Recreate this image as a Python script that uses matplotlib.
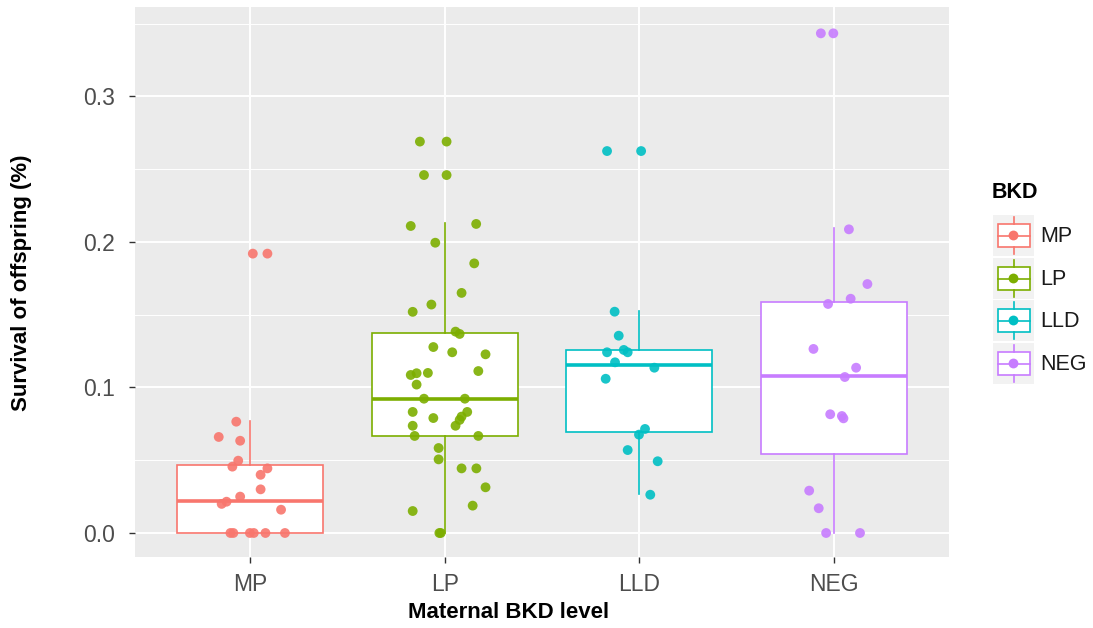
import numpy as np
import matplotlib
matplotlib.use("Agg")
import matplotlib.pyplot as plt
from matplotlib.patches import Rectangle

plt.rcParams['font.family'] = ['Liberation Sans', 'DejaVu Sans']

groups = ["MP", "LP", "LLD", "NEG"]
colors = ["#F8766D", "#7CAE00", "#00BFC4", "#C77CFF"]

# box stats: lower whisker, q1, median, q3, upper whisker
whislo = [0.0, 0.0, 0.0268, 0.0]
q1 = [0.0, 0.0667, 0.0692, 0.0543]
med = [0.022, 0.0923, 0.1155, 0.1077]
q3 = [0.0464, 0.1372, 0.1258, 0.1588]
whishi = [0.077, 0.2133, 0.1526, 0.2094]

# jittered points: x offset from category centre, y value
mp_dx = [-0.07, -0.16, -0.05, -0.06, -0.09, 0.09, 0.055, 0.055, -0.05, -0.12, -0.145,
         0.16, -0.10, -0.085, 0.0, 0.02, 0.08, 0.18, 0.015, 0.09]
mp_y = [0.0765, 0.066, 0.0634, 0.0497, 0.0456, 0.0444, 0.040, 0.030, 0.025, 0.0215, 0.020,
        0.016, 0.0, 0.0, 0.0, 0.0, 0.0, 0.0, 0.192, 0.192]

lp_dx = [-0.127, 0.01, -0.106, 0.01, -0.174, 0.162, -0.048, 0.152, 0.087, -0.068, -0.164,
         0.056, 0.077, -0.058, 0.039, 0.21, 0.173, -0.174, -0.144, -0.086, -0.144, -0.106,
         0.104, -0.164, 0.116, -0.058, 0.087, 0.077, 0.056, -0.164, -0.154, 0.173,
         -0.031, -0.031, 0.087, 0.163, 0.21, 0.144, -0.164, -0.027, -0.02]
lp_y = [0.269, 0.269, 0.246, 0.246, 0.211, 0.2124, 0.1995, 0.1853, 0.165, 0.157, 0.152,
        0.1384, 0.1368, 0.1278, 0.1242, 0.1228, 0.1113, 0.1086, 0.1098, 0.110, 0.102, 0.0923,
        0.0923, 0.0832, 0.0832, 0.079, 0.080, 0.0777, 0.0737, 0.0737, 0.0667, 0.0667,
        0.0584, 0.0506, 0.0444, 0.0444, 0.0314, 0.0188, 0.0151, 0.0, 0.0]

lld_dx = [-0.166, 0.009, -0.127, -0.106, -0.166, -0.08, -0.06, -0.125, 0.077, -0.173,
          0.029, -0.002, -0.06, 0.094, 0.056]
lld_y = [0.2625, 0.2625, 0.1521, 0.1356, 0.1242, 0.1258, 0.1242, 0.1173, 0.1136, 0.106,
         0.0715, 0.0676, 0.057, 0.0493, 0.0263]

neg_dx = [-0.068, -0.004, 0.076, 0.171, 0.085, -0.031, -0.106, 0.113, 0.055, -0.02,
          0.04, 0.048, -0.128, -0.079, -0.041, 0.133]
neg_y = [0.3434, 0.3434, 0.2087, 0.1711, 0.161, 0.1574, 0.1265, 0.1136, 0.1072, 0.0816,
         0.0804, 0.0788, 0.0291, 0.017, 0.0, 0.0]

point_dx = [mp_dx, lp_dx, lld_dx, neg_dx]
point_y = [mp_y, lp_y, lld_y, neg_y]

W, H = 1093, 628
fig = plt.figure(figsize=(W / 100, H / 100), dpi=100)
ax = fig.add_axes([135 / W, 1 - 557 / H, (949 - 135) / W, (557 - 7) / H])
ax.set_facecolor("#EBEBEB")
for s in ax.spines.values():
    s.set_visible(False)

ax.set_ylim(-0.0165, 0.3615)
ax.set_xlim(0.41, 4.59)
ax.set_yticks([0.0, 0.1, 0.2, 0.3])
ax.set_yticklabels(["0.0", "0.1", "0.2", "0.3"])
ax.set_yticks([0.05, 0.15, 0.25, 0.35], minor=True)
ax.set_xticks([1, 2, 3, 4])
ax.set_xticklabels(groups)
ax.grid(which="major", color="white", linewidth=1.4)
ax.grid(which="minor", axis="y", color="white", linewidth=0.7)
ax.set_axisbelow(True)
ax.tick_params(which="major", colors="#333333", labelcolor="#4D4D4D", labelsize=16.5,
               length=4.5, width=1)
ax.tick_params(axis="x", pad=7)
ax.tick_params(axis="y", pad=10)
ax.tick_params(which="minor", length=0)

stats = []
for i in range(4):
    stats.append(dict(whislo=whislo[i], q1=q1[i], med=med[i], q3=q3[i], whishi=whishi[i],
                      fliers=[]))
for i, c in enumerate(colors):
    ax.bxp([stats[i]], positions=[i + 1], widths=0.75, showcaps=False, showfliers=False,
           patch_artist=True,
           boxprops=dict(facecolor="white", edgecolor=c, linewidth=1.2),
           medianprops=dict(color=c, linewidth=2.6, solid_capstyle="butt"),
           whiskerprops=dict(color=c, linewidth=1.2), manage_ticks=False)

for i, c in enumerate(colors):
    xs = np.array(point_dx[i]) + i + 1
    ax.scatter(xs, point_y[i], s=50, color=c, alpha=0.9, edgecolors="none", zorder=5)

ax.set_xlabel("Maternal BKD level", fontsize=16, fontweight="bold", va="center")
ax.xaxis.set_label_coords(509 / W, 1 - 613 / H, transform=fig.transFigure)
ax.set_ylabel("Survival of offspring (%)", fontsize=16, fontweight="bold", va="center")
ax.yaxis.set_label_coords(22 / W, 1 - 283 / H, transform=fig.transFigure)

# legend
fig.text(992 / W, 1 - 193 / H, "BKD", fontsize=15.5, fontweight="bold", va="center", ha="left")
key_tops = [215, 258, 300, 343]
for i, c in enumerate(colors):
    kax = fig.add_axes([993 / W, 1 - (key_tops[i] + 41) / H, 41 / W, 41 / H])
    kax.set_facecolor("#F2F2F2")
    kax.set_xlim(0, 41)
    kax.set_ylim(41, 0)
    kax.set_xticks([])
    kax.set_yticks([])
    for s in kax.spines.values():
        s.set_visible(False)
    kax.add_patch(Rectangle((4.5, 9), 32, 23, facecolor="white", edgecolor=c, linewidth=1.2))
    kax.plot([20.5, 20.5], [2, 9], color=c, linewidth=1.2)
    kax.plot([20.5, 20.5], [32, 39], color=c, linewidth=1.2)
    kax.plot([4.5, 36.5], [20.5, 20.5], color=c, linewidth=1.2)
    kax.scatter([20.5], [20.5], s=50, color=c, edgecolors="none", zorder=5)
    fig.text(1040 / W, 1 - (key_tops[i] + 21) / H, groups[i], fontsize=15.5, va="center",
             ha="left", color="#1A1A1A")

fig.savefig("out.png", dpi=100)
